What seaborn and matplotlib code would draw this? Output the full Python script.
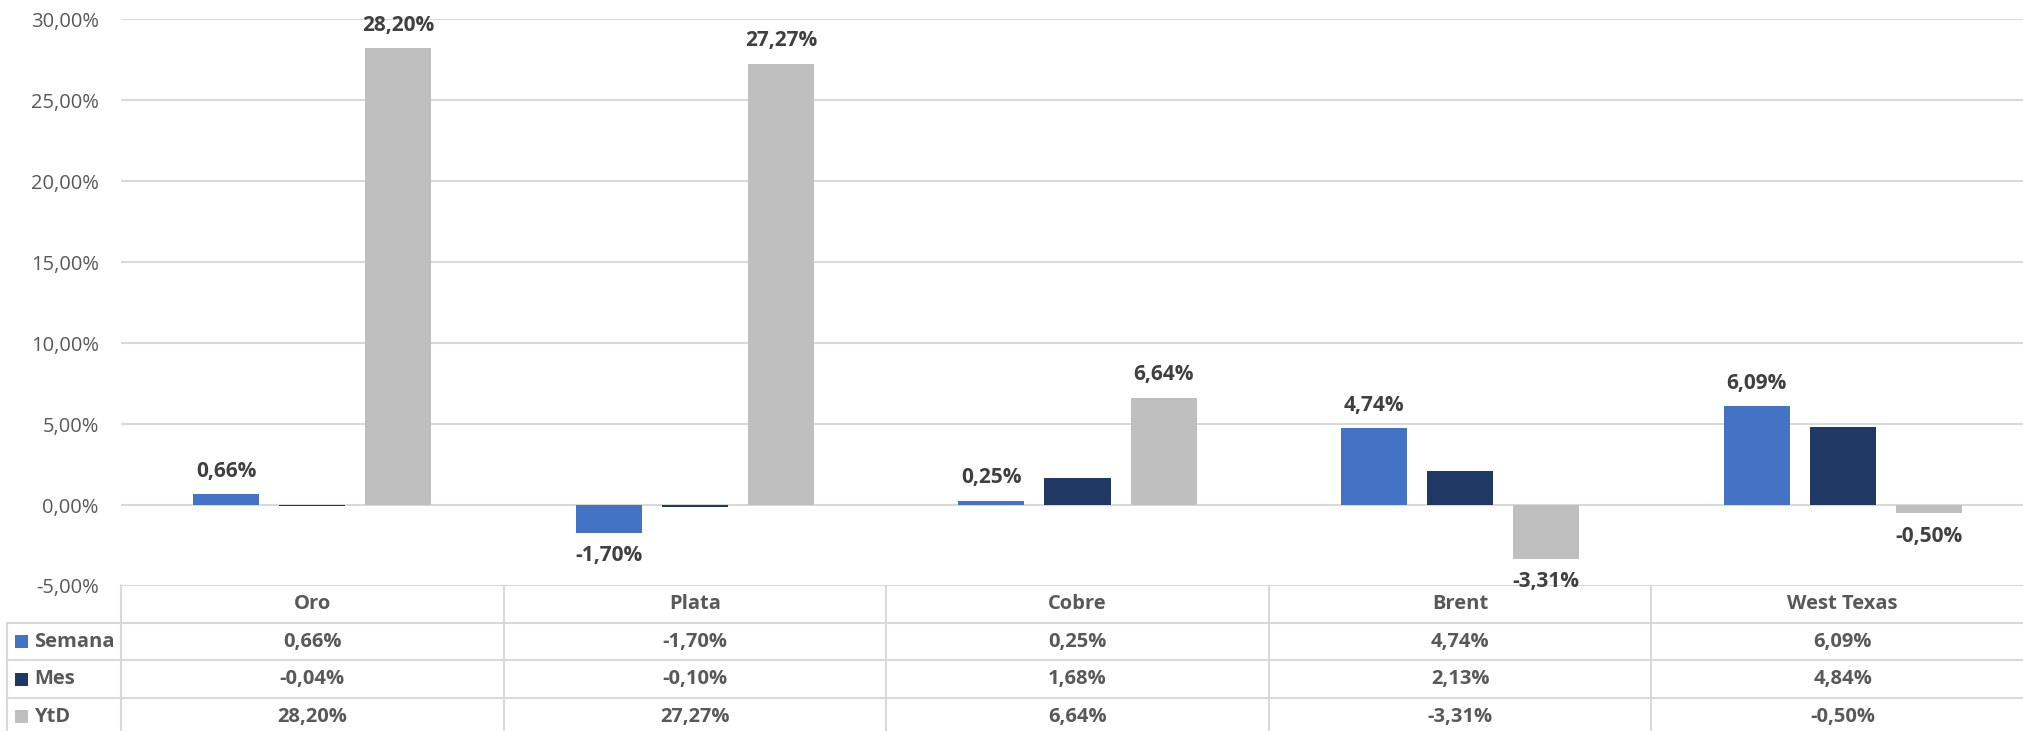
import pandas as pd
import matplotlib
matplotlib.use("Agg")
import matplotlib.pyplot as plt
from matplotlib.patches import Rectangle
import seaborn as sns

# Values (percent)
categories = ['Oro', 'Plata', 'Cobre', 'Brent', 'West Texas']
series = ['Semana', 'Mes', 'YtD']
semana = [0.66, -1.70, 0.25, 4.74, 6.09]
mes = [-0.04, -0.10, 1.68, 2.13, 4.84]
ytd = [28.20, 27.27, 6.64, -3.31, -0.50]
yticks = [-5, 0, 5, 10, 15, 20, 25, 30]

colors = ['#4472C4', '#203864', '#BFBFBF']
grid_col = '#D9D9D9'
label_col = '#404040'
text_col = '#595959'


def fmt(v):
    return f"{v:.2f}%".replace('.', ',')


df = pd.DataFrame({
    'cat': categories * 3,
    'serie': [s for s in series for _ in categories],
    'val': semana + mes + ytd,
})

sns.set_style('white')
plt.rcParams['font.family'] = ['Open Sans', 'DejaVu Sans']

W, H = 2023, 731
fig = plt.figure(figsize=(W / 100, H / 100), dpi=100)

# plot area in pixels: left 121, top 19, bottom 586, one category = 382.6 px
left_px, top_px, bot_px, col_px = 121, 19.3, 586, 382.6
ax = fig.add_axes([left_px / W, 1 - bot_px / H, 5 * col_px / W, (bot_px - top_px) / H])

sns.barplot(data=df, x='cat', y='val', hue='serie', order=categories,
            hue_order=series, palette=colors, saturation=1, width=0.675, gap=0.233,
            linewidth=0, legend=False, ax=ax, errorbar=None)

ax.set_ylim(-5, 30)
ax.set_xlim(-0.5, 4.5)
ax.set_yticks(yticks)
ax.set_yticklabels([fmt(t) for t in yticks], fontsize=14.5, color=text_col)
ax.tick_params(axis='y', length=0, pad=16)
ax.set_xticks([])
ax.set_xlabel('')
ax.set_ylabel('')
ax.grid(axis='y', color=grid_col, linewidth=1.5)
ax.set_axisbelow(True)
for sp in ax.spines.values():
    sp.set_visible(False)

# data labels only for Semana and YtD
for cont, vals in [(ax.containers[0], semana), (ax.containers[2], ytd)]:
    ax.bar_label(cont, labels=[fmt(v) for v in vals], padding=9,
                 fontsize=15, fontweight='bold', color=label_col)

# data table below the chart
row_px = 37.7
tab = fig.add_axes([left_px / W, 1 - (585 + 4 * row_px) / H, 5 * col_px / W, 4 * row_px / H],
                   sharex=ax)
tab.set_ylim(4, 0)
tab.axis('off')
tab.patch.set_visible(False)
ax.set_zorder(tab.get_zorder() + 1)

lab_left = -0.5 - (left_px - 7) / col_px
lw = 1.5
tab.plot([-0.5, 4.6], [0, 0], color=grid_col, lw=lw, clip_on=False)
for r in [1, 2, 3, 4]:
    tab.plot([lab_left, 4.6], [r, r], color=grid_col, lw=lw, clip_on=False)
for c in [-0.5, 0.5, 1.5, 2.5, 3.5, 4.5]:
    tab.plot([c, c], [0, 4], color=grid_col, lw=lw, clip_on=False)
tab.plot([lab_left, lab_left], [1, 4], color=grid_col, lw=lw, clip_on=False)

for i, cat in enumerate(categories):
    tab.text(i, 0.5, cat, ha='center', va='center', fontsize=14.5,
             fontweight='bold', color=text_col)
    for r, vals in enumerate([semana, mes, ytd], start=1):
        tab.text(i, r + 0.5, fmt(vals[i]), ha='center', va='center',
                 fontsize=14.5, fontweight='bold', color=text_col)

sq_x = -0.5 - (left_px - 15) / col_px
sq_w = 13 / col_px
sq_h = 13 / row_px
txt_x = -0.5 - (left_px - 34) / col_px
for r, (name, col) in enumerate(zip(series, colors), start=1):
    tab.add_patch(Rectangle((sq_x, r + 0.5 - sq_h / 2), sq_w, sq_h,
                            facecolor=col, edgecolor='none', clip_on=False))
    tab.text(txt_x, r + 0.5, name, ha='left', va='center', fontsize=14.5,
             fontweight='bold', color=text_col, clip_on=False)

fig.savefig('out.png', dpi=100)
